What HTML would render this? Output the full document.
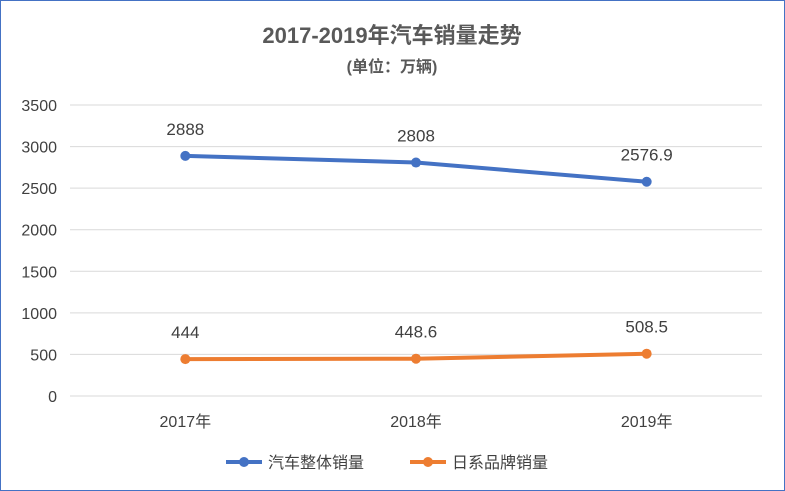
<!DOCTYPE html>
<html><head><meta charset="utf-8"><style>
body{margin:0;background:#fff}
svg{display:block;font-family:"Liberation Sans","Noto Sans CJK SC",sans-serif}
</style></head><body>
<svg width="785" height="491">
<rect x="0.5" y="0.5" width="784" height="490" fill="#fff" stroke="#4472C4"/>
<text x="392" y="43" text-anchor="middle" font-size="22" font-weight="bold" fill="#595959">2017-2019年汽车销量走势</text>
<text x="392" y="72" text-anchor="middle" font-size="16" font-weight="bold" fill="#595959">(单位：万辆)</text>
<g id="grid"></g><g id="yt"></g><g id="xt"></g><g id="series"></g>
<g>
<line x1="226" y1="462" x2="262" y2="462" stroke="#4472C4" stroke-width="4"/>
<circle cx="244" cy="462" r="5" fill="#4472C4"/>
<text x="268" y="468" font-size="16" fill="#404040">汽车整体销量</text>
<line x1="410" y1="462" x2="446" y2="462" stroke="#ED7D31" stroke-width="4"/>
<circle cx="428" cy="462" r="5" fill="#ED7D31"/>
<text x="452" y="468" font-size="16" fill="#404040">日系品牌销量</text>
</g>
</svg>
<script>
const categories=["2017年","2018年","2019年"];
const totalSales=[2888,2808,2576.9];
const japanSales=[444,448.6,508.5];
const yTicks=[0,500,1000,1500,2000,2500,3000,3500];
const NS="http://www.w3.org/2000/svg";
const L=70,R=762,T=105,B=396,MAX=3500;
const y=v=>B-(v/MAX)*(B-T);
const x=i=>L+(R-L)/categories.length*(i+0.5);
function mk(tag,attrs,parent,txt){const e=document.createElementNS(NS,tag);for(const k in attrs)e.setAttribute(k,attrs[k]);if(txt!==undefined)e.textContent=txt;document.getElementById(parent).appendChild(e);return e;}
yTicks.forEach(t=>{
 const g=mk("line",{x1:L,x2:R,y1:y(t),y2:y(t),stroke:"#D9D9D9","stroke-width":1},"grid");
 
 
 const l=mk("text",{x:57,y:y(t)+6,"text-anchor":"end","font-size":16,fill:"#404040"},"yt",t);
 
 
});
categories.forEach((c,i)=>{
 const l=mk("text",{x:x(i),y:427,"text-anchor":"middle","font-size":16,fill:"#404040"},"xt",c);
 
 
});
function series(vals,color,name){
 const p=mk("polyline",{points:vals.map((v,i)=>x(i)+","+y(v)).join(" "),fill:"none",stroke:color,"stroke-width":4,"stroke-linecap":"round"},"series");
 
 
 vals.forEach((v,i)=>{
  const c=mk("circle",{cx:x(i),cy:y(v),r:5,fill:color},"series");
  
  
  const t=mk("text",{x:x(i),y:y(v)-21,"text-anchor":"middle","font-size":17,fill:"#404040"},"series",v);
  
  
 });
}
series(totalSales,"#4472C4","total-sales");
series(japanSales,"#ED7D31","japanese-sales");
</script>
</body></html>
